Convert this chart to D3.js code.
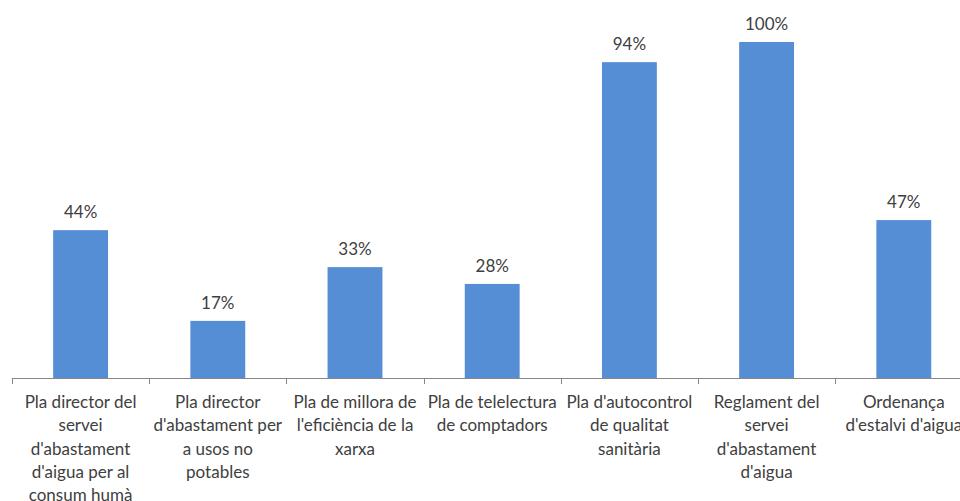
<!DOCTYPE html>
<html><head><meta charset="utf-8">
<script src="https://cdn.jsdelivr.net/npm/d3@7"></script>
<style>html,body{margin:0;padding:0;background:#fff;overflow:hidden}</style>
</head><body>
<svg id="c" width="960" height="501"></svg>
<script>
const categories = [
  "Pla director del\nservei\nd'abastament\nd'aigua per al\nconsum humà",
  "Pla director\nd'abastament per\na usos no\npotables",
  "Pla de millora de\nl'eficiència de la\nxarxa",
  "Pla de telelectura\nde comptadors",
  "Pla d'autocontrol\nde qualitat\nsanitària",
  "Reglament del\nservei\nd'abastament\nd'aigua",
  "Ordenança\nd'estalvi d'aigua"
];
const values = [44, 17, 33, 28, 94, 100, 47];
const valueLabels = ["44%", "17%", "33%", "28%", "94%", "100%", "47%"];

const svg = d3.select("#c");
const left = 12, step = 137.2, baseY = 378, topY = 42;
const x = d3.scaleBand().domain(d3.range(categories.length))
  .range([left, left + step * categories.length]).padding(0);
const y = d3.scaleLinear().domain([0, 100]).range([baseY, topY]);
const barW = x.bandwidth() * 0.4;
const font = "Lato, 'Open Sans', sans-serif";

svg.append("g").selectAll("rect").data(values).join("rect")
  .attr("x", (d, i) => x(i) + (x.bandwidth() - barW) / 2)
  .attr("y", d => y(d))
  .attr("width", barW)
  .attr("height", d => baseY - y(d))
  .attr("fill", "#558ed5");

svg.append("g").selectAll("text").data(values).join("text")
  .attr("x", (d, i) => x(i) + x.bandwidth() / 2)
  .attr("y", d => y(d) - 12)
  .attr("text-anchor", "middle")
  .attr("font-family", font).attr("font-size", 17).attr("fill", "#404040")
  .text((d, i) => valueLabels[i]);

const axis = d3.axisBottom(x).tickSize(0).tickFormat("");
const ag = svg.append("g").attr("transform", `translate(0,${baseY})`).call(axis);
ag.select(".domain").attr("stroke", "#868686").attr("d", `M${left},0.5H${left + step * categories.length}`);
ag.selectAll(".tick").remove();
const bounds = d3.range(categories.length + 1).map(i => left + step * i);
svg.append("g").selectAll("line").data(bounds).join("line")
  .attr("x1", d => Math.round(d) + 0.5).attr("x2", d => Math.round(d) + 0.5)
  .attr("y1", baseY).attr("y2", baseY + 6)
  .attr("stroke", "#868686");

const lab = svg.append("g").selectAll("text").data(categories).join("text")
  .attr("text-anchor", "middle")
  .attr("font-family", font).attr("font-size", 17).attr("fill", "#404040");
lab.each(function (d, i) {
  const t = d3.select(this);
  d.split("\n").forEach((line, j) => {
    t.append("tspan").attr("x", x(i) + x.bandwidth() / 2)
      .attr("y", 408 + j * 23.3).text(line);
  });
});
</script>
</body></html>
